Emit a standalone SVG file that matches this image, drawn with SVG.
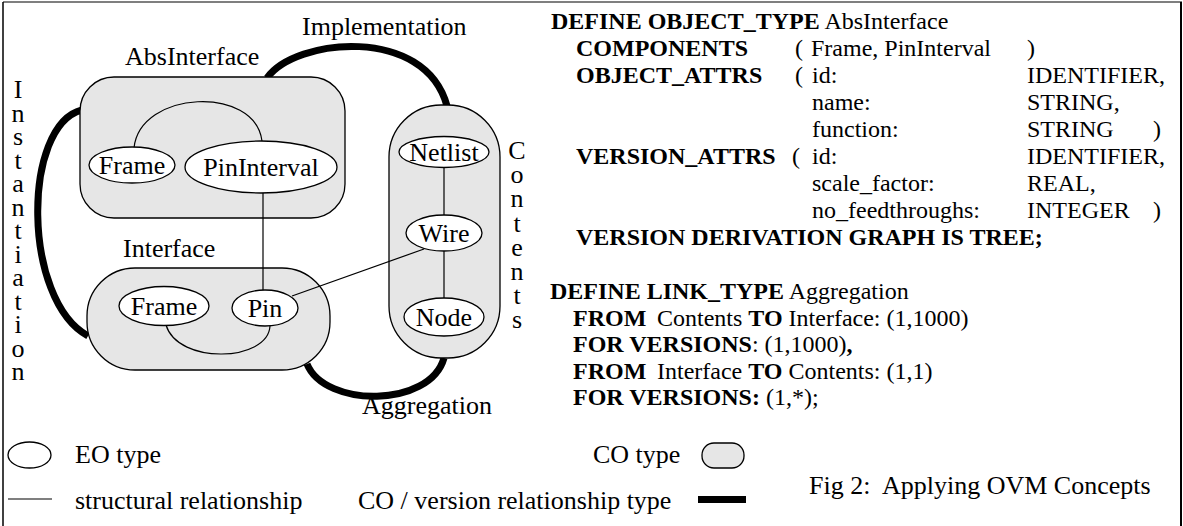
<svg xmlns="http://www.w3.org/2000/svg" width="1183" height="526" viewBox="0 0 1183 526" font-family="Liberation Serif, DejaVu Serif, serif">
<style>
text{font-family:"Liberation Serif","DejaVu Serif",serif;font-size:26px;fill:#000}
.code{font-size:24px}
.b{font-weight:bold}
.mid{text-anchor:middle}
.vert{writing-mode:vertical-rl;text-orientation:upright}
.box{fill:#e6e6e6;stroke:#000;stroke-width:1.3}
.eo{fill:#fff;stroke:#000;stroke-width:1.3}
.rel{fill:none;stroke:#000;stroke-width:1.2}
.co{fill:none;stroke:#000;stroke-width:7}
</style>
<g id="border" fill="none">
<line x1="3" y1="2" x2="1182" y2="2" stroke="#555" stroke-width="1.5"/>
<line x1="3" y1="2" x2="3" y2="526" stroke="#000" stroke-width="1.5"/>
<line x1="1181" y1="2" x2="1181" y2="526" stroke="#000" stroke-width="2"/>
</g>
<g id="connectors">
<path class="co" d="M 267 78 C 295 38, 425 25, 447 106"/>
<path class="co" d="M 82 110 C 22 125, 22 300, 88 336"/>
<path class="co" d="M 307 364 C 325 408, 430 408, 444 358"/>
</g>
<g id="AbsInterface">
<rect class="box" x="80" y="77" width="265" height="141" rx="34"/>
<text x="125" y="65">AbsInterface</text>
</g>
<g id="Interface">
<rect class="box" x="87" y="268" width="243" height="102" rx="48"/>
<text x="123" y="257">Interface</text>
</g>
<g id="Contents">
<rect class="box" x="389" y="105" width="111" height="253" rx="52"/>
<text class="vert" x="517" y="136" style="letter-spacing:-4.8px">Contents</text>
</g>
<g id="structural">
<path class="rel" d="M 134 148 C 140 90, 255 85, 262 141"/>
<path class="rel" d="M 263 193 V 290"/>
<path class="rel" d="M 292 296 L 424 249"/>
<path class="rel" d="M 166 325 C 178 365, 268 362, 270 326"/>
<path class="rel" d="M 444 167 V 215"/>
<path class="rel" d="M 444 251 V 298"/>
</g>
<g id="AbsFrame">
<ellipse class="eo" cx="132" cy="165" rx="43" ry="18"/>
<text class="mid" x="132" y="174">Frame</text>
</g>
<g id="PinInterval">
<ellipse class="eo" cx="261" cy="167" rx="76" ry="26"/>
<text class="mid" x="261" y="176">PinInterval</text>
</g>
<g id="IntFrame">
<ellipse class="eo" cx="164" cy="306" rx="45" ry="19.5"/>
<text class="mid" x="164" y="315">Frame</text>
</g>
<g id="Pin">
<ellipse class="eo" cx="265" cy="308" rx="33" ry="18"/>
<text class="mid" x="265" y="317">Pin</text>
</g>
<g id="Netlist">
<ellipse class="eo" cx="444" cy="152" rx="45" ry="15.5"/>
<text class="mid" x="444" y="161">Netlist</text>
</g>
<g id="Wire">
<ellipse class="eo" cx="444" cy="233" rx="38" ry="18"/>
<text class="mid" x="444" y="242">Wire</text>
</g>
<g id="Node">
<ellipse class="eo" cx="444" cy="317" rx="40" ry="19"/>
<text class="mid" x="444" y="326">Node</text>
</g>
<g id="labels">
<text x="302" y="35">Implementation</text>
<text x="362" y="414">Aggregation</text>
<text class="vert" x="18" y="75" style="letter-spacing:-5.5px">Instantiation</text>
</g>
<g id="objecttype">
<text class="code" x="551" y="29"><tspan class="b">DEFINE OBJECT_TYPE</tspan> AbsInterface</text>
<text class="code b" x="576" y="56">COMPONENTS</text>
<text class="code" x="795" y="56">(</text>
<text class="code" x="811" y="56">Frame, PinInterval</text>
<text class="code" x="1027" y="56">)</text>
<text class="code b" x="576" y="83">OBJECT_ATTRS</text>
<text class="code" x="795" y="83">(</text>
<text class="code" x="812" y="83">id:</text>
<text class="code" x="1027" y="83">IDENTIFIER,</text>
<text class="code" x="812" y="110">name:</text>
<text class="code" x="1027" y="110">STRING,</text>
<text class="code" x="812" y="137">function:</text>
<text class="code" x="1027" y="137">STRING</text>
<text class="code" x="1153" y="137">)</text>
<text class="code b" x="576" y="164">VERSION_ATTRS</text>
<text class="code" x="792" y="164">(</text>
<text class="code" x="812" y="164">id:</text>
<text class="code" x="1027" y="164">IDENTIFIER,</text>
<text class="code" x="812" y="191">scale_factor:</text>
<text class="code" x="1027" y="191">REAL,</text>
<text class="code" x="812" y="218">no_feedthroughs:</text>
<text class="code" x="1027" y="218">INTEGER</text>
<text class="code" x="1153" y="218">)</text>
<text class="code b" x="576" y="245">VERSION DERIVATION GRAPH IS TREE;</text>
</g>
<g id="linktype">
<text class="code" x="550" y="299"><tspan class="b">DEFINE LINK_TYPE</tspan> Aggregation</text>
<text class="code" x="573" y="325.5"><tspan class="b">FROM</tspan><tspan x="657">Contents </tspan><tspan class="b">TO</tspan> Interface: (1,1000)</text>
<text class="code" x="573" y="352"><tspan class="b">FOR VERSIONS</tspan>: (1,1000)<tspan class="b">,</tspan></text>
<text class="code" x="573" y="378.5"><tspan class="b">FROM</tspan><tspan x="657">Interface </tspan><tspan class="b">TO</tspan> Contents: (1,1)</text>
<text class="code" x="573" y="405"><tspan class="b">FOR VERSIONS:</tspan> (1,*);</text>
</g>
<g id="legend">
<ellipse class="eo" cx="29.5" cy="455" rx="21.5" ry="13"/>
<text x="75" y="463">EO type</text>
<text x="593" y="463">CO type</text>
<rect class="box" x="702" y="443" width="42" height="25" rx="12"/>
<line class="rel" x1="8" y1="499" x2="52" y2="499"/>
<text x="75" y="509">structural relationship</text>
<text x="358" y="509">CO / version relationship type</text>
<rect x="698" y="496" width="48" height="7" fill="#000"/>
<text x="809" y="494" xml:space="preserve">Fig 2:  Applying OVM Concepts</text>
</g>
</svg>
